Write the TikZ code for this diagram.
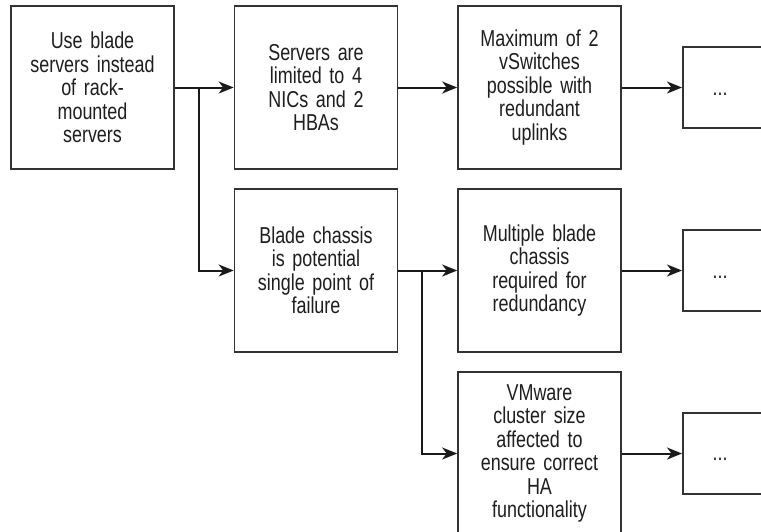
\documentclass[tikz,border=0pt]{standalone}
\usepackage{fontspec}
\setmainfont{Liberation Sans}[FakeStretch=0.78]
\usetikzlibrary{arrows.meta}
\definecolor{linec}{HTML}{1A1A1A}
\definecolor{boxc}{HTML}{333333}
\definecolor{txtc}{HTML}{1E1E1E}
\begin{document}
\begin{tikzpicture}[x=1pt,y=-1pt,
  box/.style={draw=boxc, line width=1.7pt, minimum width=163pt, minimum height=163pt,
    inner sep=0pt, align=center, text width=158pt, text=txtc,
    font=\fontsize{23}{23.5}\selectfont},
  dotbox/.style={box, minimum height=81pt},
  dots/.style={text=txtc, inner sep=0pt, anchor=base, font=\fontsize{23}{23.5}\selectfont},
  arr/.style={draw=linec, line width=2pt, -{Stealth[length=15pt,width=12pt,inset=4.5pt]}}]
\clip (0,0) rectangle (761,531);
\fill[white] (0,0) rectangle (761,531);
\node[box] (a) at (92.5,87.5) {Use blade\\servers instead\\of rack-\\mounted\\servers};
\node[box] (b) at (316,87.5) {Servers are\\limited to 4\\NICs and 2\\HBAs};
\node[box] (c) at (539.5,87.5) {Maximum of 2\\vSwitches\\possible with\\redundant\\uplinks};
\node[dotbox, anchor=west] (d) at (682,87.5) {};
\node[dots] (dt) at (720,95) {...};
\node[box] (e) at (316,270.5) {Blade chassis\\is potential\\single point of\\failure};
\node[box] (f) at (539.5,270.5) {Multiple blade\\chassis\\required for\\redundancy};
\node[dotbox, anchor=west] (g) at (682,270.5) {};
\node[dots] (gt) at (720,278) {...};
\node[box] (h) at (539.5,453.5) {VMware\\cluster size\\affected to\\ensure correct\\HA\\functionality};
\node[dotbox, anchor=west] (i) at (682,453.5) {};
\node[dots] (it) at (720,460) {...};
\coordinate (br1) at (199,87.5);
\coordinate (br2) at (422,270.5);
\draw[arr] (a.east) -- (b.west);
\draw[arr] (br1) |- (e.west);
\draw[arr] (b.east) -- (c.west);
\draw[arr] (c.east) -- (d.west);
\draw[arr] (e.east) -- (f.west);
\draw[arr] (br2) |- (h.west);
\draw[arr] (f.east) -- (g.west);
\draw[arr] (h.east) -- (i.west);
\end{tikzpicture}
\end{document}
